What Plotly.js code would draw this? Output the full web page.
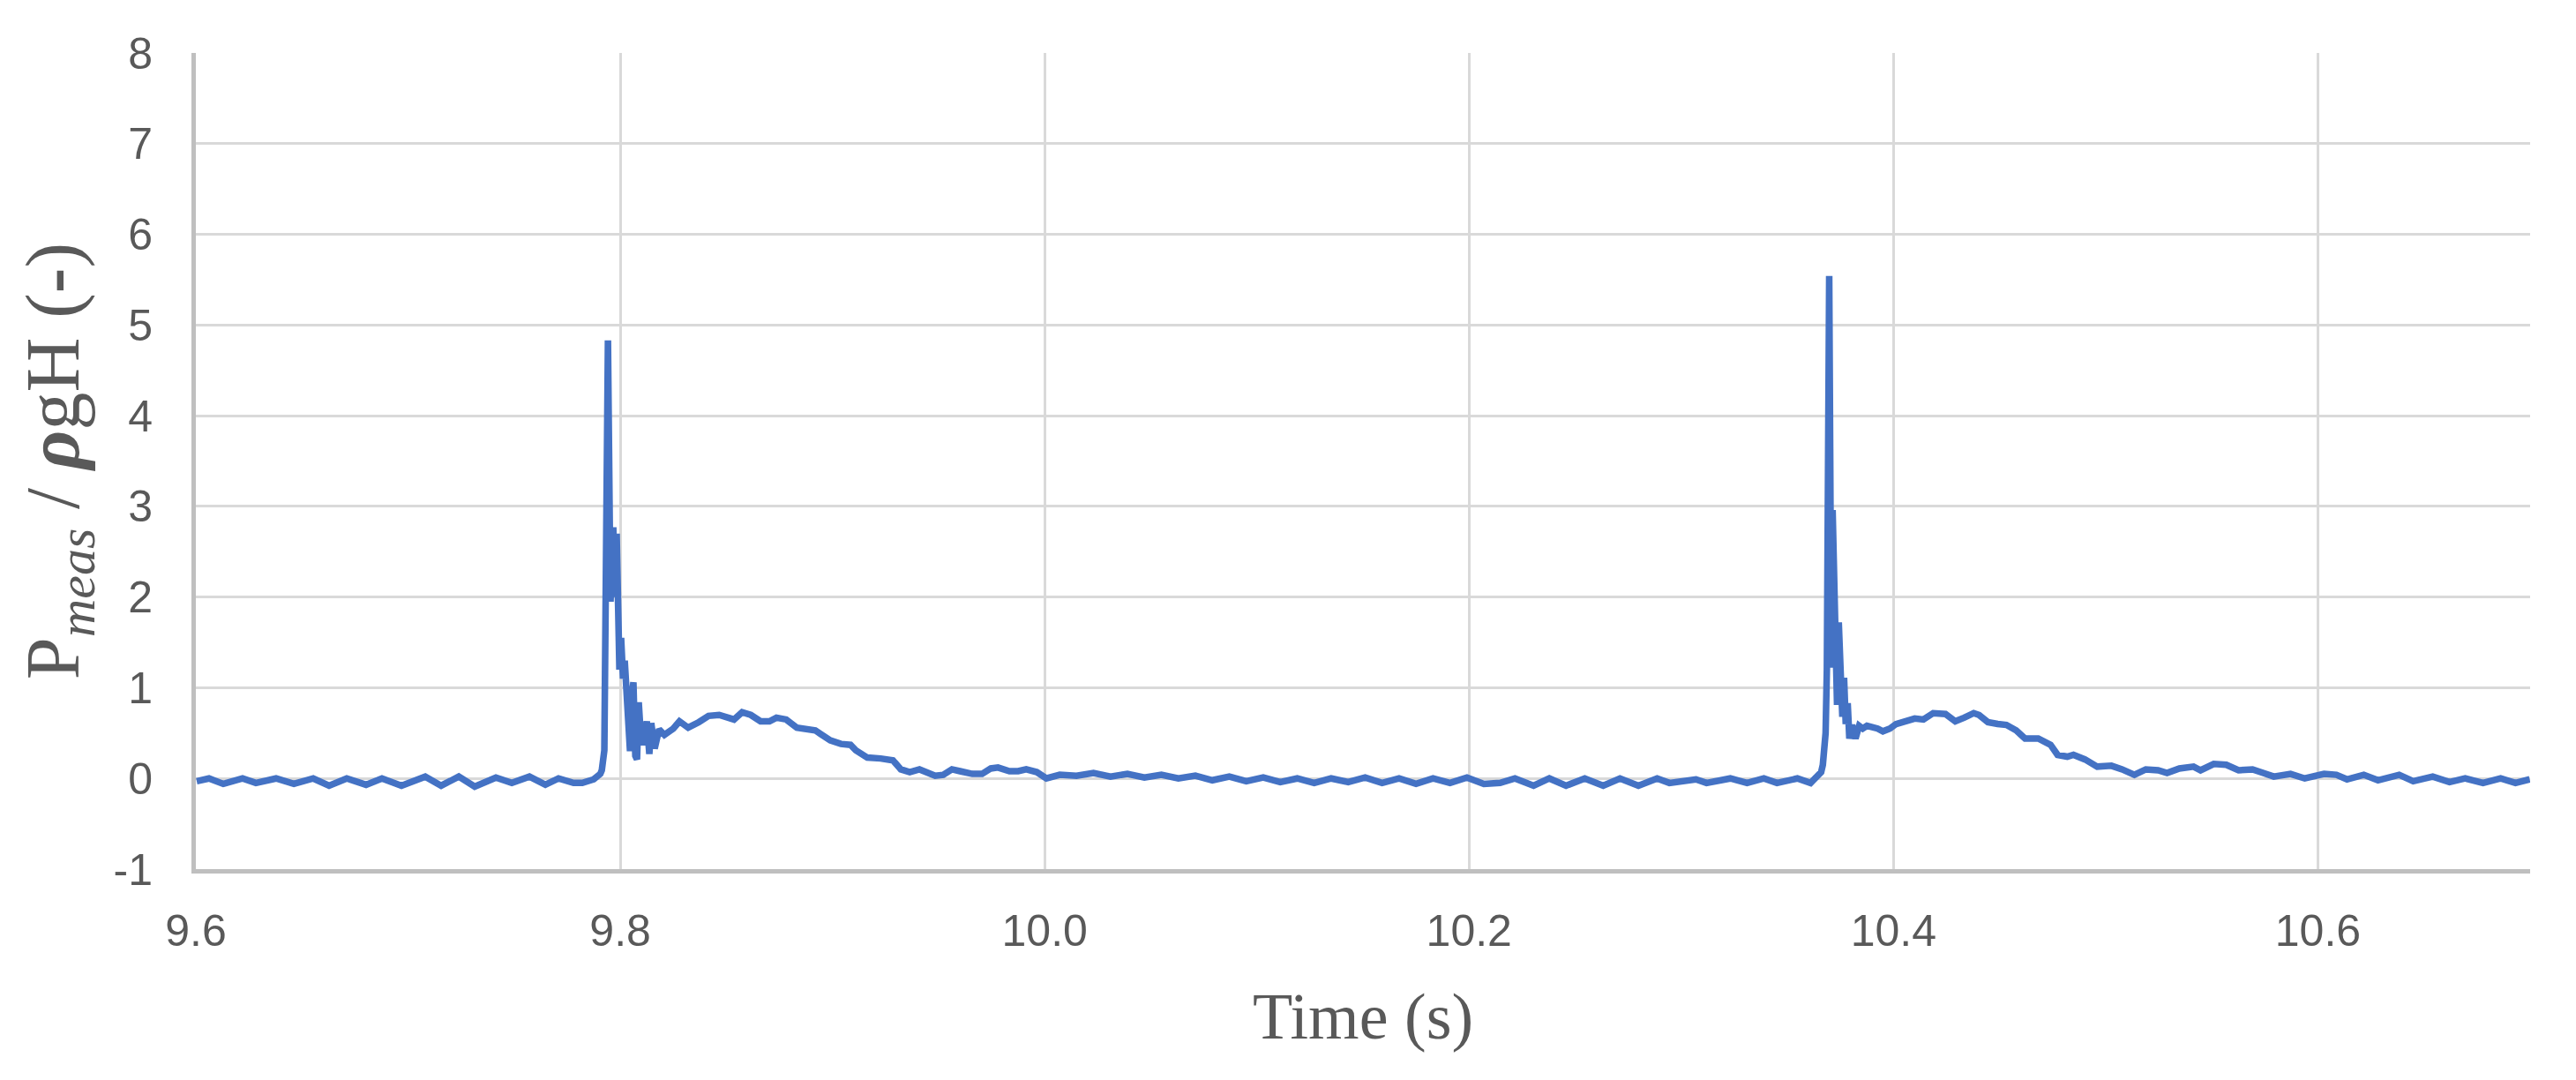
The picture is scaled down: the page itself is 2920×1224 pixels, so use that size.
<!DOCTYPE html>
<html>
<head>
<meta charset="utf-8">
<script src="https://cdn.plot.ly/plotly-3.0.1.min.js"></script>
<style>
  html, body { margin: 0; padding: 0; background: #ffffff; }
  #chart { width: 2920px; height: 1224px; }
</style>
</head>
<body>
<div id="chart"></div>
<script>
// Time (s) and normalised pressure P_meas / (rho g H)
const time = [
  9.6004, 9.6062, 9.6129, 9.6220, 9.6283, 9.6378, 9.6462, 9.6553, 9.6628, 9.6711,
  9.6802, 9.6877, 9.6969, 9.7081, 9.7156, 9.7239, 9.7314, 9.7414, 9.7489, 9.7572,
  9.7647, 9.7709, 9.7780, 9.7821, 9.7875, 9.7906, 9.7913, 9.7925, 9.7942,
  9.7954, 9.7967, 9.7975, 9.7983, 9.7992, 9.7996, 9.8004, 9.8013, 9.8021, 9.8029,
  9.8037, 9.8046, 9.8054, 9.8062, 9.8071, 9.8079, 9.8087, 9.8096, 9.8108, 9.8121,
  9.8125, 9.8137, 9.8146, 9.8162, 9.8183, 9.8208, 9.8250, 9.8279, 9.8320, 9.8370,
  9.8416, 9.8466, 9.8536, 9.8574, 9.8615, 9.8661, 9.8703, 9.8736, 9.8782, 9.8832,
  9.8877, 9.8919, 9.8944, 9.8990, 9.9040, 9.9085, 9.9110, 9.9164, 9.9227, 9.9285,
  9.9322, 9.9364, 9.9410, 9.9451, 9.9484, 9.9522, 9.9563, 9.9601, 9.9659, 9.9705,
  9.9746, 9.9780, 9.9834, 9.9875, 9.9913, 9.9963, 10.0008, 10.0071,
  10.0150, 10.0230, 10.0310, 10.0390, 10.0470, 10.0550, 10.0630, 10.0710, 10.0790,
  10.0870, 10.0950, 10.1030, 10.1110, 10.1190, 10.1270, 10.1350, 10.1430, 10.1510,
  10.1590, 10.1670, 10.1750, 10.1830, 10.1910, 10.1990, 10.2070,
  10.2146, 10.2216, 10.2304, 10.2378, 10.2457, 10.2545, 10.2632, 10.2711, 10.2798,
  10.2886, 10.2944, 10.3069, 10.3119, 10.3231, 10.3310, 10.3389, 10.3451, 10.3547,
  10.3609, 10.3659, 10.3667, 10.3680, 10.3686, 10.3690, 10.3697,
  10.3703, 10.3709, 10.3713, 10.3722, 10.3726, 10.3734, 10.3742, 10.3751, 10.3759,
  10.3767, 10.3775, 10.3784, 10.3792, 10.3805, 10.3821, 10.3838, 10.3855, 10.3875,
  10.3900, 10.3925, 10.3950, 10.3983, 10.4012, 10.4062, 10.4100, 10.4141, 10.4187,
  10.4245, 10.4291, 10.4333, 10.4378, 10.4403, 10.4445, 10.4491, 10.4532, 10.4578,
  10.4620, 10.4682, 10.4707, 10.4740, 10.4773, 10.4819, 10.4848, 10.4902, 10.4960,
  10.5027, 10.5077, 10.5135, 10.5189, 10.5247, 10.5289, 10.5347, 10.5414, 10.5447,
  10.5509, 10.5568, 10.5626, 10.5692, 10.5742, 10.5792, 10.5871, 10.5938, 10.6029,
  10.6087, 10.6137, 10.6216, 10.6283, 10.6383, 10.6449, 10.6541, 10.6620, 10.6694,
  10.6778, 10.6861, 10.6931, 10.6998
];
const pressure = [
  -0.03, 0.00, -0.06, 0.00, -0.05, 0.00, -0.06, 0.00, -0.08, 0.00,
  -0.07, 0.00, -0.08, 0.02, -0.08, 0.02, -0.09, 0.01, -0.05, 0.02,
  -0.07, 0.00, -0.05, -0.05, -0.01, 0.05, 0.09, 0.31, 4.83,
  1.95, 2.77, 2.00, 2.70, 1.60, 1.20, 1.55, 1.10, 1.30, 0.90,
  0.75, 0.30, 0.90, 1.06, 0.25, 0.21, 0.84, 0.50, 0.37, 0.60,
  0.63, 0.27, 0.61, 0.33, 0.54, 0.48, 0.55, 0.63, 0.56, 0.62,
  0.69, 0.70, 0.65, 0.73, 0.70, 0.63, 0.63, 0.67, 0.65, 0.56,
  0.54, 0.53, 0.49, 0.42, 0.38, 0.37, 0.31, 0.23, 0.22, 0.20,
  0.10, 0.07, 0.10, 0.06, 0.03, 0.04, 0.10, 0.08, 0.05, 0.05,
  0.11, 0.12, 0.08, 0.08, 0.10, 0.07, 0.00, 0.04,
  0.03, 0.06, 0.02, 0.05, 0.01, 0.04, 0.00, 0.03, -0.02,
  0.02, -0.03, 0.01, -0.04, 0.00, -0.05, 0.00, -0.04, 0.01,
  -0.05, 0.00, -0.06, 0.00, -0.05, 0.01, -0.06,
  -0.05, 0.00, -0.08, 0.00, -0.08, 0.00, -0.08, 0.00, -0.08,
  0.00, -0.05, -0.01, -0.05, 0.00, -0.05, 0.00, -0.05, 0.00,
  -0.05, 0.07, 0.15, 0.50, 1.20, 3.10, 5.54,
  3.00, 1.22, 2.96, 1.50, 1.30, 0.81, 1.72, 0.90, 0.68,
  1.11, 0.60, 0.83, 0.44, 0.59, 0.44, 0.58, 0.55, 0.58,
  0.57, 0.55, 0.52, 0.55, 0.60, 0.64, 0.66, 0.65, 0.72,
  0.71, 0.63, 0.67, 0.72, 0.70, 0.62, 0.60, 0.59, 0.53,
  0.44, 0.44, 0.41, 0.37, 0.26, 0.24, 0.26, 0.21, 0.13,
  0.14, 0.10, 0.04, 0.10, 0.09, 0.06, 0.11, 0.13, 0.09,
  0.16, 0.15, 0.09, 0.10, 0.06, 0.02, 0.05, 0.00, 0.05,
  0.04, -0.01, 0.04, -0.02, 0.04, -0.03, 0.02, -0.04, 0.00,
  -0.05, 0.00, -0.05, -0.01
];
const xTickVals = [9.6, 9.8, 10.0, 10.2, 10.4, 10.6];
const xTickText = ["9.6", "9.8", "10.0", "10.2", "10.4", "10.6"];
const yTickVals = [-1, 0, 1, 2, 3, 4, 5, 6, 7, 8];
const yTickText = ["-1", "0", "1", "2", "3", "4", "5", "6", "7", "8"];

const trace = {
  x: time,
  y: pressure,
  type: "scatter",
  mode: "lines",
  line: { color: "#4472C4", width: 7.5, shape: "linear" },
  hoverinfo: "skip",
  showlegend: false
};

const tickFont = { family: "Liberation Sans, Arial, sans-serif", size: 50, color: "#595959" };
const titleFont = { family: "Liberation Serif, Times New Roman, serif", color: "#595959" };

const layout = {
  width: 2920,
  height: 1224,
  paper_bgcolor: "#ffffff",
  plot_bgcolor: "#ffffff",
  margin: { l: 222, r: 52, t: 60, b: 239, pad: 0 },
  showlegend: false,
  xaxis: {
    range: [9.6, 10.7],
    tickmode: "array",
    tickvals: xTickVals,
    ticktext: xTickText,
    tickfont: tickFont,
    ticks: "",
    ticklabelstandoff: 22,
    showgrid: true,
    gridcolor: "#d9d9d9",
    gridwidth: 3,
    zeroline: false,
    showline: true,
    linecolor: "#bfbfbf",
    linewidth: 5,
    automargin: false,
    title: { text: "Time (s)", font: Object.assign({ size: 74 }, titleFont), standoff: 45 }
  },
  yaxis: {
    range: [-1, 8],
    tickmode: "array",
    tickvals: yTickVals,
    ticktext: yTickText,
    tickfont: tickFont,
    ticks: "",
    ticklabelstandoff: 34,
    showgrid: true,
    gridcolor: "#d9d9d9",
    gridwidth: 3,
    zeroline: false,
    showline: true,
    linecolor: "#bfbfbf",
    linewidth: 5,
    automargin: false,
    title: {
      text: "P<sub><i>meas</i></sub> / <b><i>ρ</i></b>gH (<b>-</b>)",
      font: Object.assign({ size: 86 }, titleFont),
      standoff: 12
    }
  }
};

Plotly.newPlot("chart", [trace], layout, { displayModeBar: false, staticPlot: true });
</script>
</body>
</html>
